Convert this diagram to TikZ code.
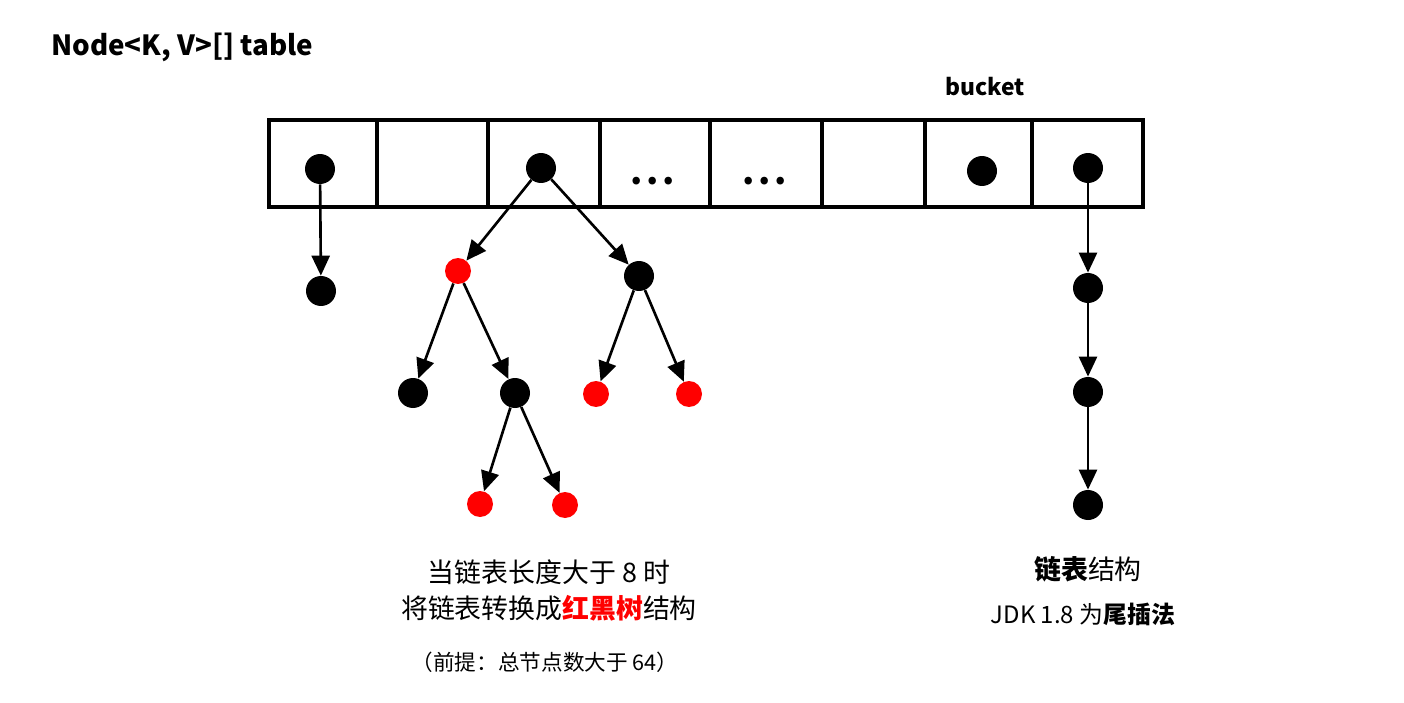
\documentclass[tikz,border=0pt]{standalone}
\usepackage{fontspec}
\setmainfont{Noto Sans CJK SC}
\usepackage{xcolor}
\usetikzlibrary{positioning,arrows.meta}
\definecolor{rbred}{RGB}{255,0,0}
\newcommand{\knode}[3]{\node [#3] (#1) at (#2) {}}

\begin{document}
\begin{tikzpicture}[x=0.02cm, y=-0.02cm,
  blacknd/.style={circle, fill=black, inner sep=0pt, minimum size=0.6cm},
  rednd/.style={circle, fill=rbred, inner sep=0pt, minimum size=0.52cm},
  link/.style={-{Triangle[length=0.4cm, width=0.36cm]}, line width=1.5pt},
  txt/.style={font=\fontsize{15.3}{18}\selectfont}]
\useasboundingbox (0,0) rectangle (1404,703);

\node [anchor=west, font=\bfseries\fontsize{15.8}{19}\selectfont] (TITLE) at (45,47) {Node<K, V>[] table};
\node [font=\bfseries\fontsize{13}{16}\selectfont] (BUCKET) at (985,87) {bucket};

\draw [line width=2.5pt] (269,120) rectangle (1143,207);
\foreach \x in {377,488,600,710,822,925,1032}
  \draw [line width=2.5pt] (\x,120) -- (\x,207);

\knode{T1}{320,169}{blacknd};
\knode{T3}{541,168}{blacknd};
\node [font=\bfseries\fontsize{20}{24}\selectfont] (DOTSA) at (653,181) {.\hspace{0.1em}.\hspace{0.1em}.};
\node [font=\bfseries\fontsize{20}{24}\selectfont] (DOTSB) at (765,181) {.\hspace{0.1em}.\hspace{0.1em}.};
\knode{T7}{982,171}{blacknd};
\knode{T8}{1088,168}{blacknd};

\knode{L1}{321,291}{blacknd};

\knode{R}{458,271}{rednd};
\knode{B}{639,276}{blacknd};
\knode{RL}{413,393}{blacknd};
\knode{RR}{515,393}{blacknd};
\knode{BL}{596,394}{rednd};
\knode{BR}{689,394}{rednd};
\knode{RRL}{480,504}{rednd};
\knode{RRR}{565,505}{rednd};

\knode{C1}{1088,288}{blacknd};
\knode{C2}{1088,392}{blacknd};
\knode{C3}{1088,505}{blacknd};

\draw [link] (T1) -- (L1);
\draw [link] (T3) -- (R);
\draw [link] (T3) -- (B);
\draw [link] (R) -- (RL);
\draw [link] (R) -- (RR);
\draw [link] (B) -- (BL);
\draw [link] (B) -- (BR);
\draw [link] (RR) -- (RRL);
\draw [link] (RR) -- (RRR);
\draw [link] (T8) -- (C1);
\draw [link] (C1) -- (C2);
\draw [link] (C2) -- (C3);

\node [txt] (TREEA) at (549,572) {当链表长度大于 8 时};
\node [txt] (TREEB) at (549,608) {将链表转换成{\bfseries\color{rbred}红黑树}结构};
\node [font=\fontsize{12.3}{15}\selectfont] (TREEC) at (545,662) {（前提：总节点数大于 64）};

\node [txt] (LISTA) at (1088,569) {{\bfseries 链表}结构};
\node [font=\fontsize{13.6}{16}\selectfont] (LISTB) at (1083,614) {JDK 1.8 为{\bfseries 尾插法}};

\end{tikzpicture}
\end{document}
